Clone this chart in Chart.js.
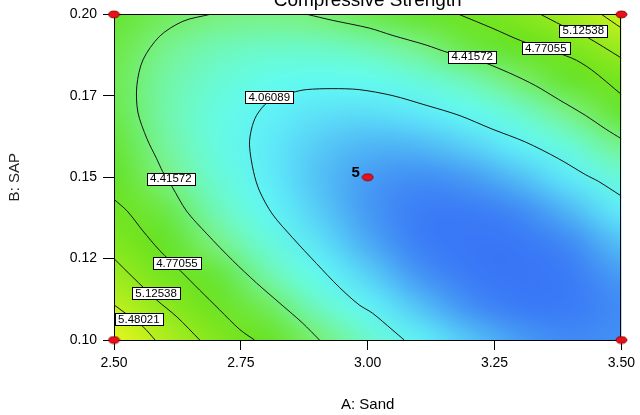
<!DOCTYPE html>
<html><head><meta charset="utf-8">
<script src="https://cdn.jsdelivr.net/npm/chart.js@4.4.0/dist/chart.umd.min.js"></script>
<style>html,body{margin:0;padding:0;background:#fff;}canvas{display:block;}</style>
</head><body>
<canvas id="c" width="640" height="415"></canvas>
<script>
// ---------- data ----------
const chartTitle = "Compressive Strength";
const xAxisTitle = "A: Sand";
const yAxisTitle = "B: SAP";
const xTickValues = [2.5, 2.75, 3.0, 3.25, 3.5];
const xTickLabels = ["2.50", "2.75", "3.00", "3.25", "3.50"];
const yTickValues = [0.1, 0.125, 0.15, 0.175, 0.2];
const yTickLabels = ["0.10", "0.12", "0.15", "0.17", "0.20"];

// response surface (estimated), rows by SAP, columns by Sand
const gridX = [2.5, 2.6, 2.7, 2.8, 2.9, 3.0, 3.1, 3.2, 3.3, 3.4, 3.5];
const gridY = [0.10, 0.11, 0.12, 0.13, 0.14, 0.15, 0.16, 0.17, 0.18, 0.19, 0.20];
const gridZ = [
  [5.891, 5.452, 5.064, 4.726, 4.438, 4.201, 4.014, 3.878, 3.792, 3.756, 3.771],
  [5.560, 5.153, 4.796, 4.490, 4.235, 4.030, 3.875, 3.770, 3.716, 3.713, 3.760],
  [5.273, 4.898, 4.574, 4.300, 4.076, 3.903, 3.780, 3.708, 3.686, 3.714, 3.793],
  [5.031, 4.689, 4.396, 4.154, 3.963, 3.821, 3.731, 3.690, 3.700, 3.761, 3.871],
  [4.835, 4.524, 4.264, 4.054, 3.894, 3.785, 3.726, 3.718, 3.760, 3.852, 3.995],
  [4.683, 4.404, 4.176, 3.998, 3.870, 3.793, 3.766, 3.790, 3.864, 3.988, 4.163],
  [4.576, 4.330, 4.133, 3.987, 3.892, 3.846, 3.852, 3.907, 4.013, 4.170, 4.376],
  [4.515, 4.300, 4.135, 4.021, 3.958, 3.945, 3.982, 4.069, 4.207, 4.396, 4.635],
  [4.498, 4.315, 4.183, 4.101, 4.069, 4.088, 4.157, 4.277, 4.447, 4.667, 4.938],
  [4.526, 4.375, 4.275, 4.225, 4.225, 4.276, 4.377, 4.529, 4.731, 4.983, 5.286],
  [4.599, 4.480, 4.412, 4.394, 4.426, 4.509, 4.642, 4.826, 5.060, 5.344, 5.679]
];

// contour lines [Sand, SAP]
const c406 = [[3.072,0.100],[3.048,0.1032],[3.009,0.1083],[2.983,0.1108],[2.944,0.1162],[2.899,0.1235],[2.852,0.1314],[2.812,0.1387],[2.787,0.1457],[2.775,0.1517],[2.767,0.1599],[2.771,0.1648],[2.781,0.1690],[2.803,0.1730],[2.852,0.1760],[2.879,0.1769],[2.930,0.1772],[2.983,0.1769],[3.048,0.1751],[3.115,0.1721],[3.180,0.1690],[3.245,0.1648],[3.311,0.1608],[3.376,0.1557],[3.429,0.1508],[3.455,0.1487],[3.500,0.1442]];
const c442a = [[2.689,0.200],[2.636,0.1979],[2.590,0.1933],[2.557,0.1860],[2.545,0.1781],[2.547,0.1700],[2.565,0.1618],[2.584,0.1557],[2.596,0.1517],[2.614,0.1472],[2.643,0.1396],[2.683,0.1326],[2.734,0.1244],[2.781,0.1175],[2.826,0.1114],[2.871,0.1053],[2.905,0.100]];
const c442b = [[2.881,0.200],[2.930,0.1982],[3.003,0.1958],[3.048,0.1936],[3.115,0.1906],[3.160,0.1882],[3.206,0.1866],[3.278,0.1821],[3.331,0.1781],[3.376,0.1739],[3.429,0.1690],[3.469,0.1648],[3.500,0.1618]];
const c477a = [[2.500,0.1432],[2.526,0.1396],[2.557,0.1335],[2.590,0.1275],[2.630,0.1214],[2.669,0.1153],[2.708,0.1093],[2.748,0.1032],[2.777,0.100]];
const c477b = [[3.180,0.200],[3.245,0.1958],[3.304,0.1918],[3.402,0.1866],[3.441,0.1830],[3.500,0.1754]];
const c513a = [[2.500,0.1250],[2.537,0.1193],[2.584,0.1123],[2.624,0.1071],[2.669,0.100]];
const c513b = [[3.341,0.200],[3.382,0.1967],[3.429,0.1933],[3.500,0.1866]];
const c548a = [[2.500,0.1108],[2.557,0.1041],[2.581,0.100]];
const c548b = [[3.461,0.200],[3.500,0.1958]];

// contour labels
const labelText = ["4.06089", "4.41572", "4.41572", "4.77055", "4.77055", "5.12538", "5.12538", "5.48021"];
const labelX    = [2.806, 2.612, 3.206, 3.351, 2.624, 3.425, 2.583, 2.549];
const labelY    = [0.1745, 0.1495, 0.1870, 0.1897, 0.1235, 0.1950, 0.1144, 0.1064];

// design points
const designX = [2.5, 2.5, 3.5, 3.5, 3.0];
const designY = [0.10, 0.20, 0.10, 0.20, 0.15];
const centerReplicates = "5";

// ---------- rendering ----------
const F = "'Liberation Sans', Arial, sans-serif";
const stops = [
  [3.68, [56,116,246]], [3.74, [60,128,246]], [3.80, [72,160,244]], [3.90, [88,208,246]],
  [4.00, [96,240,248]], [4.08, [98,252,240]], [4.25, [110,248,190]], [4.42, [124,240,120]],
  [4.55, [104,230,56]], [4.70, [100,226,36]], [5.00, [124,230,30]], [5.45, [176,238,30]],
  [5.90, [232,246,28]]
];
function colorFor(v) {
  if (v <= stops[0][0]) return stops[0][1];
  for (let i = 1; i < stops.length; i++) {
    if (v <= stops[i][0]) {
      const t = (v - stops[i-1][0]) / (stops[i][0] - stops[i-1][0]);
      const a = stops[i-1][1], b = stops[i][1];
      return [a[0]+(b[0]-a[0])*t, a[1]+(b[1]-a[1])*t, a[2]+(b[2]-a[2])*t];
    }
  }
  return stops[stops.length-1][1];
}

const dot = document.createElement('canvas');
dot.width = 13; dot.height = 9;
(function(){
  const g = dot.getContext('2d');
  g.beginPath(); g.ellipse(6.5, 4.5, 5.5, 3.4, 0, 0, Math.PI*2);
  g.fillStyle = '#e8101a'; g.fill();
  g.lineWidth = 1; g.strokeStyle = '#8a0000'; g.stroke();
})();

const surfacePlugin = {
  id: 'surface',
  beforeDatasetsDraw(chart) {
    const {ctx, chartArea: a, scales: {x, y}} = chart;
    const nx = gridX.length, ny = gridY.length;
    const off = document.createElement('canvas');
    off.width = nx; off.height = ny;
    const o = off.getContext('2d');
    const img = o.createImageData(nx, ny);
    for (let j = 0; j < ny; j++) {
      const row = gridZ[ny - 1 - j];
      for (let i = 0; i < nx; i++) {
        const c = colorFor(row[i]);
        const k = (j * nx + i) * 4;
        img.data[k] = c[0]; img.data[k+1] = c[1]; img.data[k+2] = c[2]; img.data[k+3] = 255;
      }
    }
    o.putImageData(img, 0, 0);
    const x0 = x.getPixelForValue(gridX[0]), x1 = x.getPixelForValue(gridX[nx-1]);
    const yT = y.getPixelForValue(gridY[ny-1]), yB = y.getPixelForValue(gridY[0]);
    const cw = (x1 - x0) / (nx - 1), ch = (yB - yT) / (ny - 1);
    ctx.save();
    ctx.beginPath(); ctx.rect(a.left, a.top, a.right - a.left, a.bottom - a.top); ctx.clip();
    ctx.imageSmoothingEnabled = true; ctx.imageSmoothingQuality = 'high';
    ctx.drawImage(off, x0 - cw/2, yT - ch/2, (x1 - x0) + cw, (yB - yT) + ch);
    ctx.restore();
    ctx.save();
    ctx.strokeStyle = '#000'; ctx.lineWidth = 1;
    const L = Math.round(a.left) + 0.5, T = Math.round(a.top) + 0.5;
    const R = Math.round(a.right) - 0.5, B = Math.round(a.bottom) + 0.5;
    ctx.strokeRect(L, T, R - L, B - T);
    ctx.restore();
  },
  afterDatasetsDraw(chart) {
    const {ctx, chartArea: a, scales: {x, y}} = chart;
    ctx.save();
    ctx.font = "11.5px " + F;
    ctx.textAlign = 'center'; ctx.textBaseline = 'middle';
    for (let i = 0; i < labelText.length; i++) {
      const px = x.getPixelForValue(labelX[i]), py = y.getPixelForValue(labelY[i]);
      const w = Math.round(ctx.measureText(labelText[i]).width + 6), h = 12;
      const bx = Math.round(px - w/2) + 0.5, by = Math.round(py - h/2) + 0.5;
      ctx.fillStyle = '#fff'; ctx.fillRect(bx, by, w, h);
      ctx.strokeStyle = '#000'; ctx.lineWidth = 1; ctx.strokeRect(bx, by, w, h);
      ctx.fillStyle = '#000'; ctx.fillText(labelText[i], px, py + 0.5);
    }
    // replicate count at the centre point
    const cx = x.getPixelForValue(designX[4]), cy = y.getPixelForValue(designY[4]);
    ctx.font = "bold 15px " + F;
    ctx.fillText(centerReplicates, cx - 12, cy - 4);
    // title (partly off the top, as in the reference)
    ctx.font = "19px " + F;
    ctx.textBaseline = 'alphabetic';
    ctx.fillText(chartTitle, (a.left + a.right) / 2, a.top - 8);
    ctx.restore();
  }
};

const segments = [c406, c442a, c442b, c477a, c477b, c513a, c513b, c548a, c548b];
const datasets = [{
  data: designX.map((v, i) => ({x: v, y: designY[i]})),
  pointStyle: dot, pointRadius: 5, showLine: false, clip: false, order: 0
}].concat(segments.map(s => ({
  data: s.map(p => ({x: p[0], y: p[1]})),
  showLine: true, borderColor: '#151515', borderWidth: 1, pointRadius: 0,
  tension: 0.3, fill: false, order: 1
})));

new Chart(document.getElementById('c'), {
  type: 'scatter',
  data: {datasets},
  options: {
    responsive: false, animation: false, devicePixelRatio: 1,
    layout: {padding: {left: 0, right: 17, top: 11, bottom: 0}},
    plugins: {legend: {display: false}, tooltip: {enabled: false}, title: {display: false}},
    scales: {
      x: {
        type: 'linear', min: 2.5, max: 3.5,
        afterBuildTicks: s => { s.ticks = xTickValues.map(v => ({value: v})); },
        afterFit: s => { s.height = 75; },
        ticks: {callback: (v, i) => xTickLabels[i], font: {family: F, size: 14}, color: '#000', padding: 5, maxRotation: 0, autoSkip: false},
        grid: {drawOnChartArea: false, drawTicks: true, tickLength: 10, color: '#000'},
        border: {display: true, color: '#000'},
        title: {display: true, text: xAxisTitle, font: {family: F, size: 15}, color: '#000', padding: {top: 0, bottom: 1}}
      },
      y: {
        type: 'linear', min: 0.1, max: 0.2,
        afterBuildTicks: s => { s.ticks = yTickValues.map(v => ({value: v})); },
        afterFit: s => { s.width = 114; },
        ticks: {callback: (v, i) => yTickLabels[i], font: {family: F, size: 14}, color: '#000', padding: 6, autoSkip: false},
        grid: {drawOnChartArea: false, drawTicks: true, tickLength: 11, color: '#000'},
        border: {display: true, color: '#000'},
        title: {display: true, text: yAxisTitle, font: {family: F, size: 15}, color: '#222', padding: {top: 6, bottom: 0}}
      }
    }
  },
  plugins: [surfacePlugin]
});
</script>
</body></html>
